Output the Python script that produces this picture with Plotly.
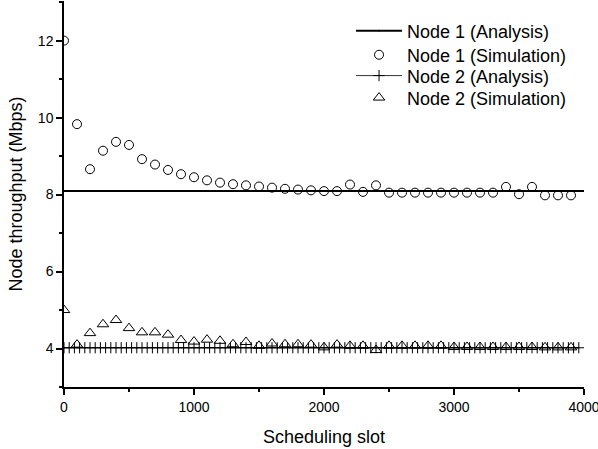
import plotly.graph_objects as go

# ---- data ----
sim_slots = [0, 100, 200, 300, 400, 500, 600, 700, 800, 900,
             1000, 1100, 1200, 1300, 1400, 1500, 1600, 1700, 1800, 1900,
             2000, 2100, 2200, 2300, 2400, 2500, 2600, 2700, 2800, 2900,
             3000, 3100, 3200, 3300, 3400, 3500, 3600, 3700, 3800, 3900]

node1_sim = [12.0, 9.83, 8.66, 9.14, 9.37, 9.29, 8.92, 8.78, 8.64, 8.53,
             8.45, 8.37, 8.31, 8.27, 8.24, 8.21, 8.18, 8.15, 8.13, 8.11,
             8.09, 8.09, 8.26, 8.07, 8.24, 8.05, 8.05, 8.05, 8.05, 8.05,
             8.05, 8.05, 8.05, 8.05, 8.20, 8.01, 8.20, 7.98, 7.98, 7.98]

node2_sim = [5.00, 4.10, 4.40, 4.63, 4.74, 4.53, 4.42, 4.42, 4.36, 4.22,
             4.18, 4.23, 4.20, 4.11, 4.17, 4.07, 4.13, 4.11, 4.11, 4.10,
             4.03, 4.10, 4.07, 4.07, 3.96, 4.07, 4.07, 4.07, 4.07, 4.07,
             4.04, 4.04, 4.04, 4.04, 4.04, 4.04, 4.04, 4.03, 4.03, 4.03]

node1_analysis_value = 8.09
node2_analysis_value = 4.02
node1_analysis_slots = list(range(0, 4001, 100))
node2_analysis_slots = list(range(0, 3961, 40))

x_ticks = [0, 1000, 2000, 3000, 4000]
y_ticks = [4, 6, 8, 10, 12]

FONT = "Liberation Sans, Arial, sans-serif"

fig = go.Figure()

fig.add_trace(go.Scatter(
    x=node1_analysis_slots, y=[node1_analysis_value] * len(node1_analysis_slots),
    mode="lines+markers", name="Node 1 (Analysis)", legend="legend",
    line=dict(color="black", width=2),
    marker=dict(symbol="circle", size=2, color="black"),
))
fig.add_trace(go.Scatter(
    x=sim_slots, y=node1_sim, mode="markers", name="Node 1 (Simulation)", legend="legend2",
    marker=dict(symbol="circle-open", size=9, color="black", line=dict(width=1)),
))
fig.add_trace(go.Scatter(
    x=node2_analysis_slots, y=[node2_analysis_value] * len(node2_analysis_slots),
    mode="lines+markers", name="Node 2 (Analysis)", legend="legend3",
    line=dict(color="#333333", width=1),
    marker=dict(symbol="cross-thin-open", size=8, color="black", line=dict(width=1, color="black")),
))
fig.add_trace(go.Scatter(
    x=sim_slots, y=node2_sim, mode="markers", name="Node 2 (Simulation)", legend="legend4",
    marker=dict(symbol="triangle-up-open", size=10, color="black", line=dict(width=1)),
))

def leg(yc):
    return dict(
        x=0.552, y=yc, xanchor="left", yanchor="middle",
        bgcolor="rgba(0,0,0,0)", borderwidth=0, itemwidth=46,
        font=dict(family=FONT, size=18, color="black"),
    )

fig.update_layout(
    width=598, height=449,
    margin=dict(l=64, r=14, t=1, b=62),
    paper_bgcolor="white", plot_bgcolor="white",
    font=dict(family=FONT, size=14, color="black"),
    showlegend=True,
    legend=leg(0.922), legend2=leg(0.860), legend3=leg(0.806), legend4=leg(0.749),
)

fig.update_xaxes(
    range=[0, 4000], tickvals=x_ticks, ticktext=[str(v) for v in x_ticks],
    automargin=False, ticklabeloverflow="allow",
    showgrid=False, zeroline=False,
    showline=True, linecolor="black", linewidth=1.5,
    ticks="outside", ticklen=6, tickwidth=1.5, tickcolor="black",
    minor=dict(dtick=500, tick0=0, ticks="outside", ticklen=3, tickwidth=1.5, tickcolor="black"),
    tickfont=dict(family=FONT, size=14),
    title=dict(text="Scheduling slot", font=dict(family=FONT, size=18), standoff=17),
)
fig.update_yaxes(
    range=[3, 13.03], tickvals=y_ticks, ticktext=[str(v) for v in y_ticks],
    automargin=False, ticklabeloverflow="allow",
    showgrid=False, zeroline=False,
    showline=True, linecolor="black", linewidth=1.5,
    ticks="outside", ticklen=6, tickwidth=1.5, tickcolor="black",
    minor=dict(dtick=1, tick0=3, ticks="outside", ticklen=3, tickwidth=1.5, tickcolor="black"),
    tickfont=dict(family=FONT, size=14),
    title=dict(text="Node throughput (Mbps)", font=dict(family=FONT, size=18), standoff=11),
)

fig.write_html("out.html", config={"displayModeBar": False},
               post_script="document.body.style.margin='0';")
